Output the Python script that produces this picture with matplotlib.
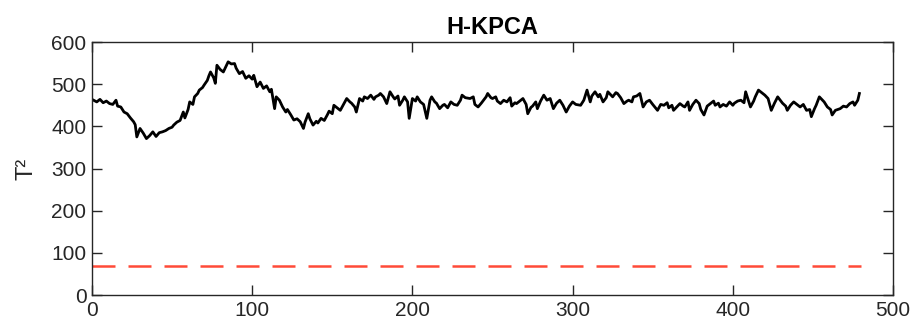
import matplotlib.pyplot as plt

plt.rcParams['font.family'] = ['Liberation Sans', 'DejaVu Sans']

# T^2 statistic: sample index and value
sample_idx = [1, 3, 5, 7, 9, 11, 13, 15, 16, 18, 20, 22, 24, 26, 27, 28, 30, 32, 34, 36,
              38, 40, 42, 44, 46, 48, 50, 51, 53, 55, 57, 58, 60, 61, 63, 64, 66, 67, 69, 70,
              72, 73, 74, 76, 77, 78, 80, 82, 84, 85, 87, 89, 90, 92, 94, 96, 98, 100, 101, 103,
              105, 107, 109, 111, 112, 114, 115, 117, 119, 121, 122, 124, 126, 128, 130, 132, 133, 135, 136, 138,
              140, 141, 143, 145, 147, 148, 150, 151, 153, 155, 157, 159, 161, 162, 164, 165, 167, 169, 170, 172,
              174, 176, 177, 179, 180, 182, 184, 186, 188, 189, 191, 192, 194, 195, 197, 198, 200, 202, 203, 205,
              207, 209, 211, 212, 214, 215, 217, 219, 220, 222, 224, 226, 228, 230, 231, 233, 236, 238, 239, 241,
              243, 244, 246, 247, 249, 250, 252, 253, 255, 257, 259, 261, 262, 264, 265, 267, 269, 271, 272, 274,
              275, 277, 278, 280, 282, 284, 286, 288, 290, 292, 294, 296, 298, 300, 302, 305, 307, 309, 311, 312,
              314, 316, 317, 319, 321, 322, 324, 325, 327, 328, 330, 332, 334, 335, 337, 338, 340, 342, 344, 346,
              348, 350, 353, 355, 357, 359, 360, 362, 363, 365, 367, 369, 370, 372, 373, 375, 377, 379, 380, 382,
              384, 386, 388, 389, 391, 392, 394, 396, 398, 400, 401, 403, 405, 407, 408, 410, 411, 413, 414, 416,
              418, 420, 422, 424, 426, 428, 430, 431, 433, 434, 436, 438, 440, 442, 444, 446, 448, 449, 451, 452,
              454, 456, 457, 459, 461, 462, 464, 467, 469, 471, 473, 475, 476, 478, 479]
t2_values = [462, 458, 464, 456, 460, 454, 452, 462, 448, 446, 434, 430, 420, 411, 404, 375, 395, 384, 371, 378,
             387, 376, 385, 387, 390, 395, 398, 403, 410, 414, 434, 420, 440, 458, 452, 470, 478, 486, 492, 498,
             509, 520, 529, 515, 502, 545, 535, 529, 545, 553, 548, 549, 538, 525, 530, 514, 520, 512, 521, 494,
             505, 490, 496, 482, 488, 442, 470, 462, 446, 434, 440, 428, 415, 418, 411, 395, 410, 430, 418, 403,
             412, 408, 419, 414, 428, 436, 430, 450, 444, 438, 452, 466, 458, 455, 446, 434, 466, 460, 470, 466,
             474, 464, 470, 474, 478, 470, 454, 482, 470, 465, 472, 450, 462, 470, 458, 419, 466, 460, 470, 458,
             452, 419, 462, 470, 458, 455, 442, 450, 452, 444, 458, 452, 450, 462, 474, 468, 466, 470, 452, 446,
             455, 460, 470, 478, 468, 466, 470, 460, 454, 462, 458, 468, 448, 456, 454, 460, 466, 452, 430, 445,
             448, 458, 442, 460, 474, 462, 466, 442, 455, 462, 450, 434, 448, 458, 452, 450, 462, 486, 458, 472,
             482, 470, 476, 458, 468, 482, 474, 470, 480, 478, 468, 454, 460, 462, 458, 470, 472, 478, 446, 458,
             462, 452, 438, 452, 450, 456, 444, 450, 438, 446, 454, 448, 446, 458, 438, 452, 462, 454, 440, 427,
             448, 454, 460, 450, 455, 446, 452, 448, 458, 450, 455, 460, 462, 456, 482, 458, 446, 460, 470, 486,
             480, 474, 466, 438, 455, 470, 460, 455, 448, 438, 450, 458, 452, 446, 452, 438, 440, 423, 442, 450,
             470, 462, 458, 446, 440, 427, 438, 442, 448, 446, 454, 458, 450, 462, 478]

# control limit
limit_x = [0, 480]
limit_value = 70

fig = plt.figure(figsize=(9.15, 3.32), dpi=100)
ax = fig.add_axes([0.1005, 0.1114, 0.8755, 0.762])

ax.plot(sample_idx, t2_values, color='black', linewidth=2.0, solid_joinstyle='round')
ax.plot(limit_x, [limit_value, limit_value], color='#ff4a38', linewidth=1.8,
        linestyle=(0, (9.2, 5.2)))

ax.set_xlim(0, 500)
ax.set_ylim(0, 600)
ax.set_xticks([0, 100, 200, 300, 400, 500])
ax.set_yticks([0, 100, 200, 300, 400, 500, 600])

grey = '#262626'
for s in ax.spines.values():
    s.set_color(grey)
    s.set_linewidth(1.0)
ax.tick_params(direction='in', length=7, width=1.0, colors=grey,
               labelsize=15, top=True, right=True, pad=4)

ax.set_title('H-KPCA', fontsize=17, fontweight='bold', pad=6)
ax.set_ylabel('T²', fontsize=17, color=grey, labelpad=10)

fig.savefig('out.png')
